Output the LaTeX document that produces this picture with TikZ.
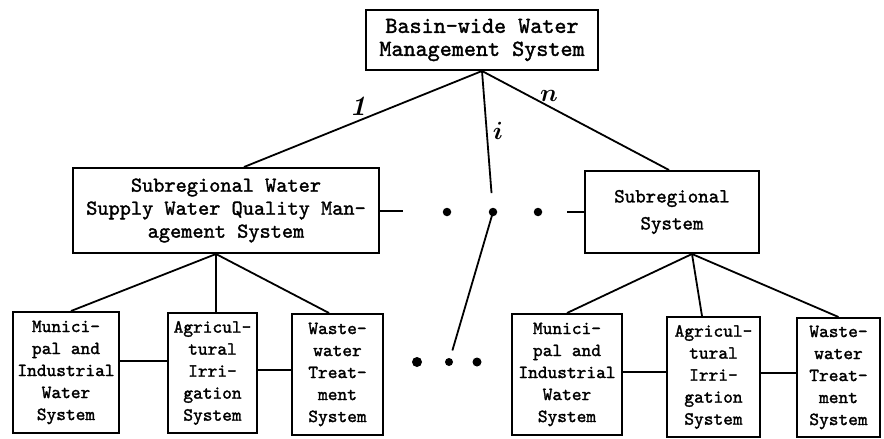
\documentclass[tikz,border=0pt]{standalone}
\usepackage{fontspec}
\newfontfamily\tw[FakeBold=1.6]{lmmono10-regular.otf}
\usetikzlibrary{calc}
\begin{document}
\begin{tikzpicture}[x=1pt,y=-1pt,
  box/.style={draw, line width=2pt, rectangle, inner sep=0pt, align=center},
  topbox/.style={box, font=\tw\fontsize{23}{23}\selectfont},
  subbox/.style={box, font=\tw\fontsize{21.3}{23}\selectfont},
  leafbox/.style={box, font=\tw\fontsize{18.5}{22}\selectfont},
  link/.style={line width=1.8pt},
  ellipsisdot/.style={circle, fill, inner sep=0pt, minimum size=#1},
  hand/.style={font=\fontsize{28}{28}\selectfont\boldmath, inner sep=0pt}]
\useasboundingbox (0,0) rectangle (884,439);

% top level
\node[topbox, minimum width=232, minimum height=60] (top) at (482,40)
  {Basin-wide Water\\Management System};

% subregional level
\node[subbox, minimum width=306, minimum height=85] (subL) at (226,210.5)
  {Subregional Water\\Supply Water Quality Man-\\agement System};
\node[subbox, font=\tw\fontsize{20}{27}\selectfont, minimum width=174, minimum height=82] (subR) at (672,212)
  {Subregional\\System};

% dots between the subregions
\node[ellipsisdot=8.5pt] (m1) at (447,212) {};
\node[ellipsisdot=8.5pt] (m2) at (493,212) {};
\node[ellipsisdot=8.5pt] (m3) at (538,212) {};
\coordinate (dashL) at (403,211);
\coordinate (dashR) at (567,212);

% leaf systems, left subregion
\node[leafbox, minimum width=106, minimum height=121] (A) at (66,372.5)
  {Munici-\\pal and\\Industrial\\Water\\System};
\node[leafbox, minimum width=89, minimum height=120] (B) at (212.5,373)
  {Agricul-\\tural\\Irri-\\gation\\System};
\node[leafbox, minimum width=91, minimum height=121] (C) at (337.5,374.5)
  {Waste-\\water\\Treat-\\ment\\System};

% leaf systems, right subregion
\node[leafbox, minimum width=110, minimum height=121] (D) at (567,374.5)
  {Munici-\\pal and\\Industrial\\Water\\System};
\node[leafbox, minimum width=93, minimum height=120] (E) at (713.5,377)
  {Agricul-\\tural\\Irri-\\gation\\System};
\node[leafbox, minimum width=83, minimum height=119] (F) at (838.5,377.5)
  {Waste-\\water\\Treat-\\ment\\System};

% dots between the leaf groups
\node[ellipsisdot=10pt] (b1) at (417,362) {};
\node[ellipsisdot=8pt] (b2) at (449,362) {};
\node[ellipsisdot=9pt] (b3) at (477,362) {};

% branches from the top system
\draw[link] (top.south) -- ([xshift=172pt]subL.north west);
\draw[link] (top.south) -- ([xshift=85pt]subR.north west);
\draw[link, shorten >=19pt] (top.south) -- (m2.center);
\draw[link, shorten >=12pt] (m2.center) -- (b2.center);

% branch labels
\node[hand] (lab1) at (358,106) {\textbf{\textit{1}}};
\node[hand] (labi) at (498,131) {$i$};
\node[hand] (labn) at (549,96) {$n$};

% links across the subregional level
\draw[link] (subL.east |- dashL) -- (dashL);
\draw[link] (dashR) -- (subR.west |- dashR);

% left subregion branches
\coordinate (apL) at ([xshift=144pt]subL.south west);
\draw[link] (apL) -- ([xshift=59pt]A.north west);
\draw[link] (apL) -- (apL |- B.north);
\draw[link] (apL) -- ([xshift=38pt]C.north west);
\draw[link] ([yshift=11.5pt]A.east) -- ([yshift=11.5pt]A.east -| B.west);
\draw[link] ([yshift=3pt]B.east) -- ([yshift=3pt]B.east -| C.west);

% right subregion branches
\coordinate (apR) at ([xshift=108pt]subR.south west);
\draw[link] (apR) -- (D.north);
\draw[link] (apR) -- ([xshift=36pt]E.north west);
\draw[link] (apR) -- (F.north);
\draw[link] ([yshift=2.5pt]D.east) -- ([yshift=2.5pt]D.east -| E.west);
\draw[link] ([yshift=4pt]E.east) -- ([yshift=4pt]E.east -| F.west);
\end{tikzpicture}
\end{document}
